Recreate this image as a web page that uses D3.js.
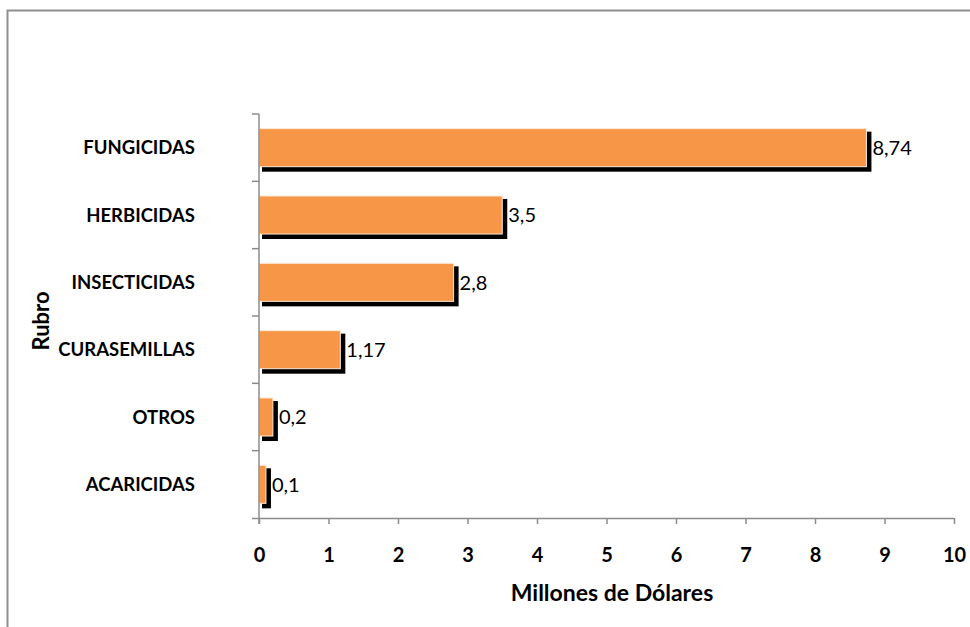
<!DOCTYPE html>
<html>
<head>
<meta charset="utf-8">
<script src="https://cdn.jsdelivr.net/npm/d3@7"></script>
<style>
  html, body { margin: 0; padding: 0; background: #fff; }
  svg { display: block; font-family: Lato, "Noto Sans", sans-serif; }
</style>
</head>
<body>
<svg id="chart" width="970" height="627"></svg>
<script>
// Pesticide categories, top to bottom
const categories = ["FUNGICIDAS", "HERBICIDAS", "INSECTICIDAS", "CURASEMILLAS", "OTROS", "ACARICIDAS"];
// Value per category, in millions of dollars
const values = [8.74, 3.5, 2.8, 1.17, 0.2, 0.1];
// Value labels as printed next to each bar
const valueLabels = ["8,74", "3,5", "2,8", "1,17", "0,2", "0,1"];
// Horizontal axis ticks
const xTicks = [0, 1, 2, 3, 4, 5, 6, 7, 8, 9, 10];

(function () {
  const svg = d3.select("#chart");
  const W = 970, H = 627;
  const plotLeft = 259, plotRight = 954, plotTop = 114, plotBottom = 518;
  const axisColor = "#8c8c8c";

  // outer chart frame
  svg.append("rect")
    .attr("x", 7.5).attr("y", 10.5)
    .attr("width", W + 20).attr("height", H + 20)
    .attr("fill", "#fff")
    .attr("stroke", "#8f8f8f").attr("stroke-width", 2);

  const x = d3.scaleLinear().domain([0, 10]).range([plotLeft, plotRight]);
  const y = d3.scaleBand().domain(categories).range([plotTop, plotBottom])
    .paddingInner(0.435).paddingOuter(0.2175);

  const data = categories.map((c, i) => ({ cat: c, value: values[i], label: valueLabels[i] }));

  // bar shadows
  svg.append("g").selectAll("rect")
    .data(data).join("rect")
    .attr("x", x(0) + 3)
    .attr("y", d => y(d.cat) + 3)
    .attr("width", d => x(d.value) - x(0) + 2)
    .attr("height", y.bandwidth() + 2)
    .attr("fill", "#000");

  // bars
  svg.append("g").selectAll("rect")
    .data(data).join("rect")
    .attr("x", x(0))
    .attr("y", d => y(d.cat))
    .attr("width", d => x(d.value) - x(0))
    .attr("height", y.bandwidth())
    .attr("fill", "#f79646")
    .attr("stroke", "#fde9d9").attr("stroke-width", 1);

  // value labels
  svg.append("g").selectAll("text")
    .data(data).join("text")
    .attr("x", d => x(d.value) + 6)
    .attr("y", d => y(d.cat) + y.bandwidth() / 2)
    .attr("dy", "0.36em")
    .attr("font-size", 20)
    .attr("fill", "#000")
    .text(d => d.label);

  // x axis
  const xAxis = d3.axisBottom(x).tickValues(xTicks).tickSize(6).tickFormat(d3.format("d"));
  const gx = svg.append("g").attr("transform", `translate(0,${plotBottom})`).call(xAxis);
  gx.select(".domain").attr("d", `M${plotLeft - 7},0.5H${plotRight}`)
    .attr("stroke", axisColor).attr("stroke-width", 1.5);
  gx.selectAll(".tick line").attr("stroke", axisColor).attr("stroke-width", 1.5);
  gx.selectAll(".tick text")
    .attr("y", 44).attr("dy", "0")
    .attr("font-family", "Lato, sans-serif")
    .attr("font-size", 20).attr("font-weight", "bold").attr("fill", "#000");

  // y axis: ticks at category boundaries
  const gy = svg.append("g");
  gy.append("line")
    .attr("x1", plotLeft).attr("x2", plotLeft).attr("y1", plotTop).attr("y2", plotBottom + 6)
    .attr("stroke", axisColor).attr("stroke-width", 1.5);
  const step = y.step();
  gy.selectAll("line.tk")
    .data(d3.range(categories.length))
    .join("line").attr("class", "tk")
    .attr("x1", plotLeft - 7).attr("x2", plotLeft)
    .attr("y1", i => y(categories[i]) - y.paddingInner() * step / 2)
    .attr("y2", i => y(categories[i]) - y.paddingInner() * step / 2)
    .attr("stroke", axisColor).attr("stroke-width", 1.5);

  // category labels
  svg.append("g").selectAll("text")
    .data(data).join("text")
    .attr("x", 195)
    .attr("y", d => y(d.cat) + y.bandwidth() / 2)
    .attr("dy", "0.36em")
    .attr("text-anchor", "end")
    .attr("font-size", 18.5).attr("font-weight", "bold")
    .attr("fill", "#000")
    .text(d => d.cat);

  // axis titles
  svg.append("text")
    .attr("x", 612).attr("y", 601)
    .attr("text-anchor", "middle")
    .attr("font-size", 23).attr("font-weight", "bold")
    .text("Millones de Dólares");

  svg.append("text")
    .attr("transform", "translate(49,321) rotate(-90)")
    .attr("text-anchor", "middle")
    .attr("font-size", 22).attr("font-weight", "bold")
    .text("Rubro");
})();
</script>
</body>
</html>
